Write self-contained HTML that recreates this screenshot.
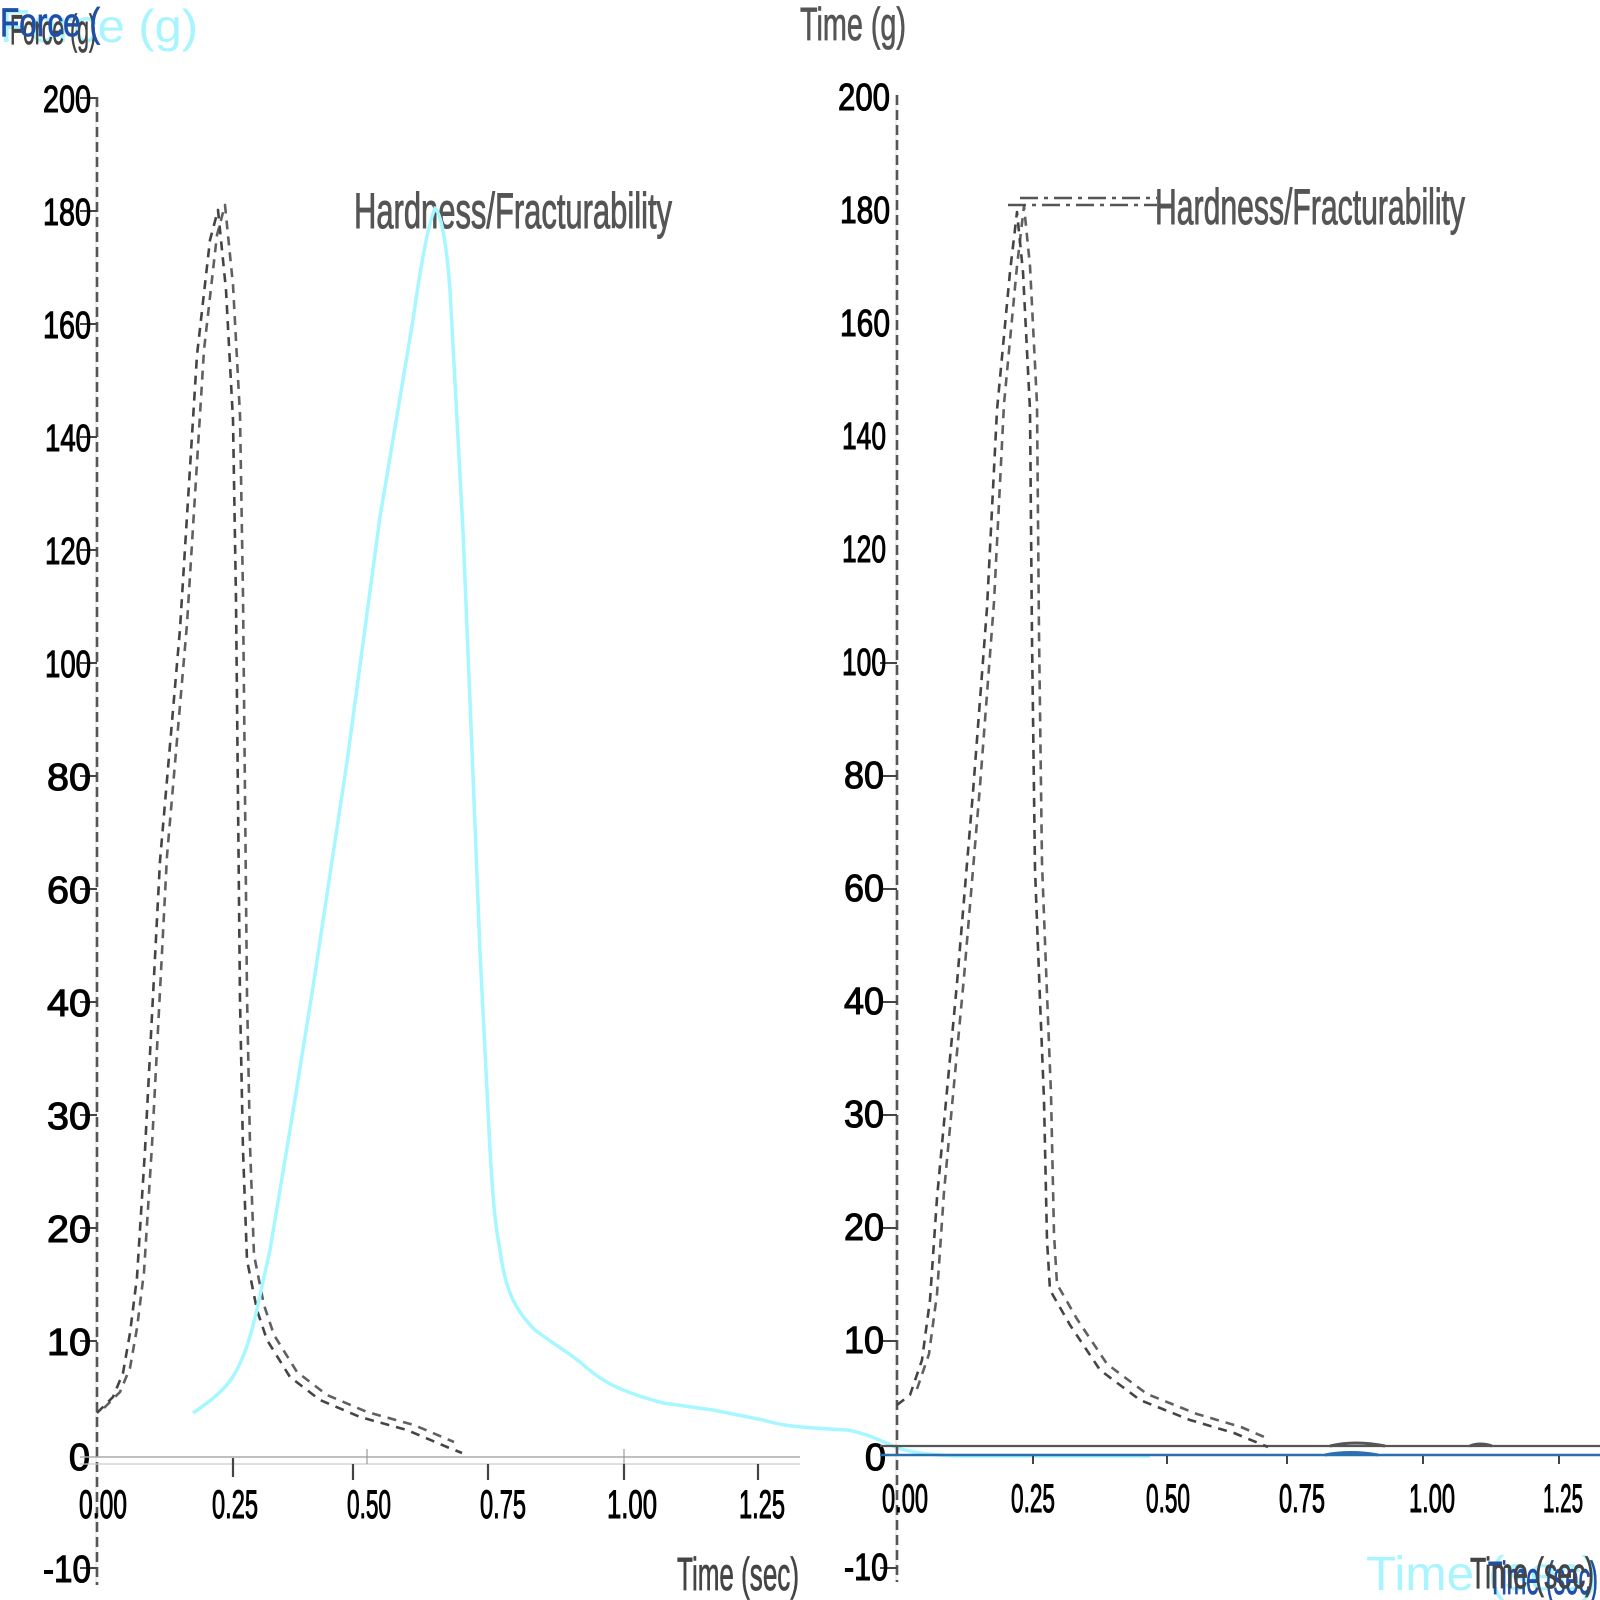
<!DOCTYPE html>
<html>
<head>
<meta charset="utf-8">
<style>
  html,body{margin:0;padding:0;background:#fff;}
  svg{display:block;}
  text{font-family:"Liberation Sans",Arial,sans-serif;}
</style>
</head>
<body>
<svg width="1600" height="1600" viewBox="0 0 1600 1600" xmlns="http://www.w3.org/2000/svg">
  <rect width="1600" height="1600" fill="#fff"/>

  <!-- ===== Top-left axis title (overlapping) ===== -->
  <text x="0" y="42" font-size="46" fill="#a8f4ff" textLength="198" lengthAdjust="spacingAndGlyphs">Force (g)</text>
  <text x="10" y="44" font-size="42" fill="#444" stroke="#444" stroke-width="0.8" textLength="86" lengthAdjust="spacingAndGlyphs">Force (g)</text>
  <text x="0" y="36" font-size="40" fill="#1f4fa8" stroke="#1f4fa8" stroke-width="0.8" textLength="100" lengthAdjust="spacingAndGlyphs">Force (</text>

  <!-- ===== Top-middle title ===== -->
  <text x="800" y="40" font-size="46" fill="#555" stroke="#555" stroke-width="0.8" textLength="106" lengthAdjust="spacingAndGlyphs">Time (g)</text>

  <!-- ===== LEFT PANEL ===== -->
  <line x1="96" y1="97" x2="96" y2="1585" stroke="#ddd" stroke-width="1"/>
  <line x1="97" y1="97" x2="97" y2="1585" stroke="#555" stroke-width="2.6" stroke-dasharray="10 5"/>
  <g stroke="#444" stroke-width="2">
    <line x1="80" y1="98" x2="97" y2="98"/>
    <line x1="80" y1="211" x2="97" y2="211"/>
    <line x1="80" y1="324" x2="97" y2="324"/>
    <line x1="80" y1="437" x2="97" y2="437"/>
    <line x1="80" y1="550" x2="97" y2="550"/>
    <line x1="80" y1="663" x2="97" y2="663"/>
    <line x1="80" y1="776" x2="97" y2="776"/>
    <line x1="80" y1="889" x2="97" y2="889"/>
    <line x1="80" y1="1002" x2="97" y2="1002"/>
    <line x1="80" y1="1115" x2="97" y2="1115"/>
    <line x1="80" y1="1228" x2="97" y2="1228"/>
    <line x1="80" y1="1341" x2="97" y2="1341"/>
    <line x1="80" y1="1568" x2="97" y2="1568"/>
  </g>
  <g font-size="38" fill="#000" stroke="#000" stroke-width="1.1" text-anchor="end">
    <text x="91" y="112" textLength="48" lengthAdjust="spacingAndGlyphs">200</text>
    <text x="91" y="225" textLength="48" lengthAdjust="spacingAndGlyphs">180</text>
    <text x="91" y="338" textLength="48" lengthAdjust="spacingAndGlyphs">160</text>
    <text x="91" y="451" textLength="46" lengthAdjust="spacingAndGlyphs">140</text>
    <text x="91" y="564" textLength="46" lengthAdjust="spacingAndGlyphs">120</text>
    <text x="91" y="677" textLength="46" lengthAdjust="spacingAndGlyphs">100</text>
    <text x="91" y="790" textLength="44" lengthAdjust="spacingAndGlyphs">80</text>
    <text x="91" y="903" textLength="44" lengthAdjust="spacingAndGlyphs">60</text>
    <text x="91" y="1016" textLength="44" lengthAdjust="spacingAndGlyphs">40</text>
    <text x="91" y="1129" textLength="44" lengthAdjust="spacingAndGlyphs">30</text>
    <text x="91" y="1242" textLength="44" lengthAdjust="spacingAndGlyphs">20</text>
    <text x="91" y="1355" textLength="44" lengthAdjust="spacingAndGlyphs">10</text>
    <text x="90" y="1470">0</text>
    <text x="91" y="1582" textLength="48" lengthAdjust="spacingAndGlyphs">-10</text>
  </g>
  <line x1="80" y1="1457" x2="800" y2="1457" stroke="#aaa" stroke-width="1.6"/>
  <line x1="80" y1="1464" x2="800" y2="1464" stroke="#ccc" stroke-width="1.2"/>
  <g stroke="#444" stroke-width="2.2">
    <line x1="233" y1="1458" x2="233" y2="1477"/>
    <line x1="353" y1="1464" x2="353" y2="1480"/>
    <line x1="488" y1="1464" x2="488" y2="1480"/>
    <line x1="624" y1="1464" x2="624" y2="1480"/>
    <line x1="758" y1="1464" x2="758" y2="1480"/>
  </g>
  <g stroke="#999" stroke-width="1.2">
    <line x1="367" y1="1449" x2="367" y2="1464"/>
    <line x1="624" y1="1449" x2="624" y2="1464"/>
  </g>
  <g font-size="40" fill="#000" stroke="#000" stroke-width="1.1" text-anchor="middle">
    <text x="103" y="1518" textLength="48" lengthAdjust="spacingAndGlyphs">0.00</text>
    <text x="235" y="1518" textLength="46" lengthAdjust="spacingAndGlyphs">0.25</text>
    <text x="369" y="1518" textLength="44" lengthAdjust="spacingAndGlyphs">0.50</text>
    <text x="503" y="1518" textLength="46" lengthAdjust="spacingAndGlyphs">0.75</text>
    <text x="632" y="1518" textLength="50" lengthAdjust="spacingAndGlyphs">1.00</text>
    <text x="762" y="1518" textLength="46" lengthAdjust="spacingAndGlyphs">1.25</text>
  </g>
  <text x="677" y="1590" font-size="46" fill="#444" stroke="#444" stroke-width="0.8" textLength="122" lengthAdjust="spacingAndGlyphs">Time (sec)</text>

  <text x="354" y="228" font-size="50" fill="#555" stroke="#555" stroke-width="1" textLength="318" lengthAdjust="spacingAndGlyphs">Hardness/Fracturability</text>

  <g fill="none" stroke="#444" stroke-width="2.6" stroke-dasharray="9 7" stroke-linejoin="round">
    <polyline points="97,1413 113,1397 123,1373 130,1333 137,1277 145,1150 160,861 180,629 197,355 210,240 218,210 226,290 233,420 236,600 238,800 240,1000 243,1150 247,1260 257,1310 267,1340 290,1377 320,1400 360,1417 407,1430 447,1447 462,1453"/>
    <polyline transform="translate(7,-5)" opacity="0.85" points="97,1413 113,1397 123,1373 130,1333 137,1277 145,1150 160,861 180,629 197,355 210,240 218,210 226,290 233,420 236,600 238,800 240,1000 243,1150 247,1260 257,1310 267,1340 290,1377 320,1400 360,1417 407,1430 447,1447"/>
  </g>

  <path fill="none" stroke="#a6f7ff" stroke-width="3.5" stroke-linejoin="round"
        d="M193,1413 C205,1405 223,1392 232,1378 C245,1358 253,1330 260,1295 L270,1250 L290,1130 L313,987 L347,762 L380,517 L413,320 C420,270 428,225 435,208 C442,215 447,250 450,290 L463,531 L472,750 L480,952 L490,1150 C493,1200 495,1225 500,1250 C505,1290 515,1310 535,1330 C555,1345 565,1350 580,1362 C600,1380 615,1390 663,1403 L713,1410 L763,1420 C780,1425 790,1427 847,1430 C865,1433 880,1440 895,1447 C910,1452 925,1455 960,1456 L1150,1456"/>

  <!-- ===== RIGHT PANEL ===== -->
  <line x1="896" y1="95" x2="896" y2="1582" stroke="#ddd" stroke-width="1"/>
  <line x1="897" y1="95" x2="897" y2="1582" stroke="#555" stroke-width="2.6" stroke-dasharray="10 5"/>
  <g stroke="#444" stroke-width="2">
    <line x1="880" y1="663" x2="897" y2="663"/>
    <line x1="880" y1="776" x2="897" y2="776"/>
    <line x1="880" y1="889" x2="897" y2="889"/>
    <line x1="880" y1="1002" x2="897" y2="1002"/>
    <line x1="880" y1="1115" x2="897" y2="1115"/>
    <line x1="880" y1="1228" x2="897" y2="1228"/>
    <line x1="880" y1="1341" x2="897" y2="1341"/>
    <line x1="880" y1="1568" x2="897" y2="1568"/>
  </g>
  <g font-size="38" fill="#000" stroke="#000" stroke-width="1.1" text-anchor="end">
    <text x="890" y="110" textLength="52" lengthAdjust="spacingAndGlyphs">200</text>
    <text x="890" y="223" textLength="50" lengthAdjust="spacingAndGlyphs">180</text>
    <text x="890" y="336" textLength="50" lengthAdjust="spacingAndGlyphs">160</text>
    <text x="886" y="449" textLength="44" lengthAdjust="spacingAndGlyphs">140</text>
    <text x="886" y="562" textLength="44" lengthAdjust="spacingAndGlyphs">120</text>
    <text x="886" y="675" textLength="44" lengthAdjust="spacingAndGlyphs">100</text>
    <text x="884" y="788" textLength="40" lengthAdjust="spacingAndGlyphs">80</text>
    <text x="884" y="901" textLength="40" lengthAdjust="spacingAndGlyphs">60</text>
    <text x="884" y="1014" textLength="40" lengthAdjust="spacingAndGlyphs">40</text>
    <text x="884" y="1127" textLength="40" lengthAdjust="spacingAndGlyphs">30</text>
    <text x="884" y="1240" textLength="40" lengthAdjust="spacingAndGlyphs">20</text>
    <text x="884" y="1353" textLength="40" lengthAdjust="spacingAndGlyphs">10</text>
    <text x="886" y="1470">0</text>
    <text x="888" y="1580" textLength="44" lengthAdjust="spacingAndGlyphs">-10</text>
  </g>
  <line x1="880" y1="1446" x2="1600" y2="1446" stroke="#555" stroke-width="2.2"/>
  <line x1="880" y1="1455" x2="1600" y2="1455" stroke="#2a6fb0" stroke-width="2.4"/>
  <g stroke="#444" stroke-width="2">
    <line x1="1033" y1="1456" x2="1033" y2="1464"/>
    <line x1="1167" y1="1456" x2="1167" y2="1464"/>
    <line x1="1287" y1="1456" x2="1287" y2="1464"/>
    <line x1="1423" y1="1456" x2="1423" y2="1464"/>
    <line x1="1559" y1="1456" x2="1559" y2="1464"/>
  </g>
  <g font-size="40" fill="#000" stroke="#000" stroke-width="1.1" text-anchor="middle">
    <text x="905" y="1512" textLength="46" lengthAdjust="spacingAndGlyphs">0.00</text>
    <text x="1033" y="1512" textLength="44" lengthAdjust="spacingAndGlyphs">0.25</text>
    <text x="1168" y="1512" textLength="44" lengthAdjust="spacingAndGlyphs">0.50</text>
    <text x="1302" y="1512" textLength="46" lengthAdjust="spacingAndGlyphs">0.75</text>
    <text x="1432" y="1512" textLength="46" lengthAdjust="spacingAndGlyphs">1.00</text>
    <text x="1563" y="1512" textLength="40" lengthAdjust="spacingAndGlyphs">1.25</text>
  </g>
  <text x="1366" y="1590" font-size="48" fill="#a8f4ff" textLength="232" lengthAdjust="spacingAndGlyphs">Time (sec)</text>
  <text x="1488" y="1594" font-size="46" fill="#1f4fa8" stroke="#1f4fa8" stroke-width="0.8" textLength="110" lengthAdjust="spacingAndGlyphs">Time (sec)</text>
  <text x="1470" y="1588" font-size="44" fill="#444" stroke="#444" stroke-width="0.8" textLength="124" lengthAdjust="spacingAndGlyphs">Time (sec)</text>

  <g fill="none" stroke="#555" stroke-width="2.4" stroke-dasharray="18 6 4 6">
    <line x1="1008" y1="205" x2="1157" y2="205"/>
    <line x1="1020" y1="198" x2="1157" y2="198"/>
  </g>
  <text x="1155" y="224" font-size="50" fill="#555" stroke="#555" stroke-width="1" textLength="310" lengthAdjust="spacingAndGlyphs">Hardness/Fracturability</text>

  <g fill="none" stroke="#444" stroke-width="2.6" stroke-dasharray="9 7" stroke-linejoin="round">
    <polyline points="897,1405 910,1395 922,1360 930,1300 937,1198 957,983 973,792 987,608 997,410 1010,272 1017,212 1023,272 1030,410 1032,639 1035,869 1040,1000 1044,1100 1047,1240 1050,1290 1070,1325 1100,1370 1140,1400 1190,1420 1234,1433 1268,1447"/>
    <polyline transform="translate(7,-6)" opacity="0.85" points="910,1395 922,1360 930,1300 937,1198 957,983 973,792 987,608 997,410 1010,272 1017,212 1023,272 1030,410 1032,639 1035,869 1040,1000 1044,1100 1047,1240 1050,1290 1070,1325 1100,1370 1140,1400 1190,1420 1234,1433 1262,1445"/>
  </g>
  <g stroke-width="3" fill="none">
    <path d="M1330,1446 Q1355,1440 1385,1446" stroke="#555"/>
    <path d="M1470,1446 Q1480,1442 1492,1446" stroke="#555"/>
    <path d="M1325,1455 Q1350,1450 1378,1455" stroke="#2a6fb0"/>
  </g>
</svg>
</body>
</html>
